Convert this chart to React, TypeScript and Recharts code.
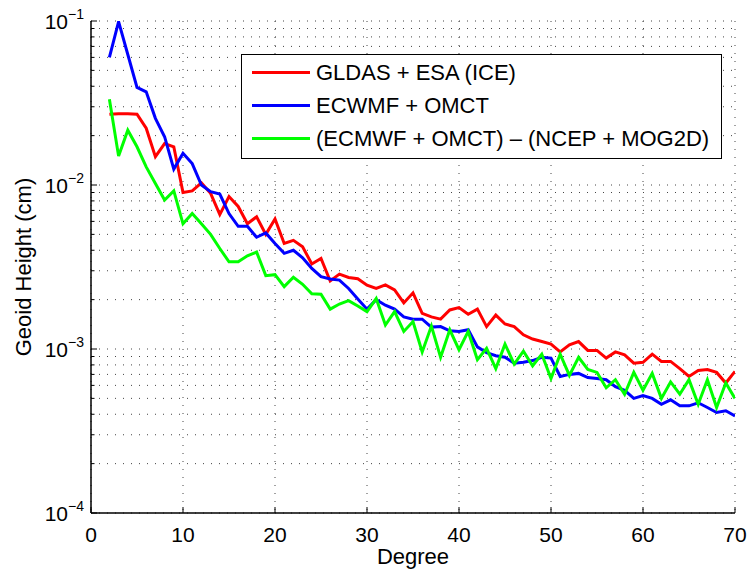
import React from 'react';
import { LineChart, Line, XAxis, YAxis, CartesianGrid, Legend } from 'recharts';

// spherical harmonic degree
const degrees = [
  2, 3, 4, 5, 6, 7, 8, 9, 10, 11, 12, 13, 14, 15, 16, 17, 18, 19, 20, 21, 22, 23, 24, 25,
  26, 27, 28, 29, 30, 31, 32, 33, 34, 35, 36, 37, 38, 39, 40, 41, 42, 43, 44, 45, 46, 47,
  48, 49, 50, 51, 52, 53, 54, 55, 56, 57, 58, 59, 60, 61, 62, 63, 64, 65, 66, 67, 68, 69, 70,
];

// geoid height per degree (cm)
const gldasEsa = [
  0.027, 0.0272, 0.0272, 0.027, 0.0222, 0.0149, 0.0179, 0.0171, 0.009, 0.0092, 0.0103, 0.0089,
  0.0066, 0.0085, 0.0074, 0.0058, 0.0064, 0.005, 0.0062, 0.0044, 0.0046, 0.0042, 0.0033, 0.00357,
  0.0026, 0.00286, 0.00273, 0.00268, 0.00245, 0.00234, 0.00246, 0.00229, 0.00191, 0.0022, 0.00165,
  0.00157, 0.00152, 0.00173, 0.00179, 0.00163, 0.00175, 0.00137, 0.00161, 0.00142, 0.00137, 0.00122,
  0.00115, 0.00111, 0.00107, 0.00096, 0.00106, 0.00111, 0.00098, 0.00098, 0.00088, 0.00096, 0.00092,
  0.00082, 0.00083, 0.00093, 0.00084, 0.00084, 0.00076, 0.00068, 0.00074, 0.00075, 0.00072, 0.00062,
  0.00073,
];

const ecmwfOmct = [
  0.06, 0.099, 0.0625, 0.0394, 0.037, 0.0255, 0.0197, 0.0125, 0.0156, 0.0135, 0.01, 0.0091,
  0.0088, 0.0067, 0.0056, 0.0056, 0.0048, 0.0051, 0.0044, 0.00383, 0.004, 0.0036, 0.0031, 0.00276,
  0.00267, 0.00263, 0.00234, 0.00202, 0.00175, 0.002, 0.00185, 0.00175, 0.00157, 0.00152, 0.00152,
  0.00136, 0.00137, 0.00129, 0.00128, 0.00131, 0.00103, 0.00095, 0.00091, 0.00089, 0.00082, 0.00083,
  0.00085, 0.00089, 0.00088, 0.00068, 0.0007, 0.00071, 0.00067, 0.00066, 0.00065, 0.00059, 0.00056,
  0.0005, 0.00052, 0.0005, 0.00046, 0.00049, 0.00045, 0.00045, 0.00047, 0.00044, 0.00041, 0.00042,
  0.00039,
];

const ecmwfMinusNcep = [
  0.0333, 0.015, 0.0216, 0.0171, 0.0129, 0.0102, 0.0081, 0.0092, 0.0058, 0.0067, 0.0058, 0.005,
  0.0041, 0.0034, 0.0034, 0.0037, 0.0039, 0.0028, 0.00284, 0.0024, 0.00274, 0.00248, 0.00217, 0.00216,
  0.00175, 0.00188, 0.00197, 0.00183, 0.00169, 0.00203, 0.0014, 0.00169, 0.00128, 0.00147, 0.00096,
  0.00138, 0.00089, 0.00131, 0.00099, 0.00128, 0.00086, 0.00101, 0.00076, 0.00107, 0.00081, 0.00097,
  0.00079, 0.00093, 0.00066, 0.00093, 0.00069, 0.00089, 0.00075, 0.00072, 0.00058, 0.00065, 0.00053,
  0.00072, 0.00056, 0.00071, 0.0005, 0.00063, 0.00053, 0.00065, 0.00046, 0.00065, 0.00044, 0.00062,
  0.0005,
];

const seriesNames = ['GLDAS + ESA (ICE)', 'ECWMF + OMCT', '(ECMWF + OMCT) \u2013 (NCEP + MOG2D)'];

const xTicks = [0, 10, 20, 30, 40, 50, 60, 70];
const yTicks = [
  0.0001, 0.0002, 0.0003, 0.0004, 0.0005, 0.0006, 0.0007, 0.0008, 0.0009,
  0.001, 0.002, 0.003, 0.004, 0.005, 0.006, 0.007, 0.008, 0.009,
  0.01, 0.02, 0.03, 0.04, 0.05, 0.06, 0.07, 0.08, 0.09,
  0.1,
];

const data = degrees.map((degree, i) => ({
  degree,
  gldas: gldasEsa[i],
  ecmwf: ecmwfOmct[i],
  diff: ecmwfMinusNcep[i],
}));

const FONT = '"Liberation Sans", Arial, Helvetica, sans-serif';

const isDecade = (v: number) => Math.abs(Math.log10(v) - Math.round(Math.log10(v))) < 1e-6;

const LeftTick = (props: any) => {
  const { x, y, payload } = props;
  const v = payload.value;
  const major = isDecade(v);
  const exp = Math.round(Math.log10(v));
  return (
    <g>
      <line x1={x} x2={x + (major ? 6 : 3.5)} y1={y} y2={y} stroke="#000" strokeWidth={1} />
      {major && (
        <>
          <text x={x - 23} y={y + 8} textAnchor="end" fontSize={21} fontFamily={FONT} fill="#000">
            10
          </text>
          <text x={x - 23} y={y - 2} textAnchor="start" fontSize={14} fontFamily={FONT} fill="#000">
            {'\u2212' + Math.abs(exp)}
          </text>
        </>
      )}
    </g>
  );
};

const RightTick = (props: any) => {
  const { x, y, payload } = props;
  const major = isDecade(payload.value);
  return <line x1={x} x2={x - (major ? 6 : 3.5)} y1={y} y2={y} stroke="#000" strokeWidth={1} />;
};

const BottomTick = (props: any) => {
  const { x, y, payload } = props;
  return (
    <g>
      <line x1={x} x2={x} y1={y} y2={y - 6} stroke="#000" strokeWidth={1} />
      <text x={x} y={y + 29} textAnchor="middle" fontSize={21} fontFamily={FONT} fill="#000">
        {payload.value}
      </text>
    </g>
  );
};

const TopTick = (props: any) => {
  const { x, y } = props;
  return <line x1={x} x2={x} y1={y} y2={y + 6} stroke="#000" strokeWidth={1} />;
};

const LegendBox = (props: any) => {
  const items = [...(props.payload || [])].sort(
    (a: any, b: any) => seriesNames.indexOf(a.value) - seriesNames.indexOf(b.value)
  );
  return (
    <div
      style={{
        border: '1.5px solid #000',
        background: '#fff',
        width: 481,
        height: 105,
        boxSizing: 'border-box',
        paddingTop: 1,
      }}
    >
      {items.map((entry: any) => (
        <div key={entry.value} style={{ display: 'flex', alignItems: 'center', height: 33 }}>
          <span
            style={{
              display: 'inline-block',
              width: 58,
              height: 3,
              background: entry.color,
              marginLeft: 10,
              marginRight: 6,
            }}
          />
          <span style={{ fontFamily: FONT, fontSize: 22, color: '#000', lineHeight: '33px', whiteSpace: 'nowrap' }}>
            {entry.value}
          </span>
        </div>
      ))}
    </div>
  );
};

export default function App() {
  return (
    <div style={{ position: 'absolute', left: 0, top: 0, background: '#fff' }}>
      <LineChart width={747} height={572} data={data} margin={{ top: 21, right: 12, bottom: 0, left: 0 }}>
        <CartesianGrid xAxisId="b" yAxisId="l" stroke="#444" strokeDasharray="1 7" />
        <XAxis
          xAxisId="b"
          dataKey="degree"
          type="number"
          domain={[0, 70]}
          ticks={xTicks}
          interval={0}
          height={59}
          tickSize={0}
          tickMargin={0}
          tickLine={false}
          axisLine={{ stroke: '#000', strokeWidth: 1.5 }}
          tick={BottomTick}
          allowDataOverflow
          label={({ viewBox }: any) => (
            <text
              x={viewBox.x + viewBox.width / 2}
              y={viewBox.y + 51}
              textAnchor="middle"
              fontSize={22}
              fontFamily={FONT}
              fill="#000"
            >
              Degree
            </text>
          )}
        />
        <XAxis
          xAxisId="t"
          orientation="top"
          dataKey="degree"
          type="number"
          domain={[0, 70]}
          ticks={xTicks}
          interval={0}
          height={0}
          tickSize={0}
          tickMargin={0}
          tickLine={false}
          axisLine={{ stroke: '#000', strokeWidth: 1.5 }}
          tick={TopTick}
          allowDataOverflow
        />
        <YAxis
          yAxisId="l"
          type="number"
          scale="log"
          domain={[0.0001, 0.1]}
          ticks={yTicks}
          interval={0}
          width={91}
          tickSize={0}
          tickMargin={0}
          tickLine={false}
          axisLine={{ stroke: '#000', strokeWidth: 1.5 }}
          tick={LeftTick}
          allowDataOverflow
          label={({ viewBox }: any) => {
            const cx = viewBox.x + 23;
            const cy = viewBox.y + viewBox.height / 2;
            return (
              <text
                x={cx}
                y={cy}
                transform={`rotate(-90 ${cx} ${cy})`}
                textAnchor="middle"
                dominantBaseline="central"
                fontSize={22}
                fontFamily={FONT}
                fill="#000"
              >
                Geoid Height (cm)
              </text>
            );
          }}
        />
        <YAxis
          yAxisId="r"
          orientation="right"
          type="number"
          scale="log"
          domain={[0.0001, 0.1]}
          ticks={yTicks}
          interval={0}
          width={0}
          tickSize={0}
          tickMargin={0}
          tickLine={false}
          axisLine={{ stroke: '#000', strokeWidth: 1.5 }}
          tick={RightTick}
          allowDataOverflow
        />
        <Legend
          layout="horizontal"
          verticalAlign="middle"
          align="center"
          content={LegendBox}
          wrapperStyle={{ position: 'absolute', left: 241, top: 54, width: 481, height: 105 }}
        />
        <Line
          xAxisId="b"
          yAxisId="l"
          type="linear"
          dataKey="gldas"
          name={seriesNames[0]}
          stroke="#ff0000"
          strokeWidth={3}
          dot={false}
          isAnimationActive={false}
        />
        <Line
          xAxisId="b"
          yAxisId="l"
          type="linear"
          dataKey="ecmwf"
          name={seriesNames[1]}
          stroke="#0000ff"
          strokeWidth={3}
          dot={false}
          isAnimationActive={false}
        />
        <Line
          xAxisId="b"
          yAxisId="l"
          type="linear"
          dataKey="diff"
          name={seriesNames[2]}
          stroke="#00ff00"
          strokeWidth={3}
          dot={false}
          isAnimationActive={false}
        />
      </LineChart>
    </div>
  );
}
